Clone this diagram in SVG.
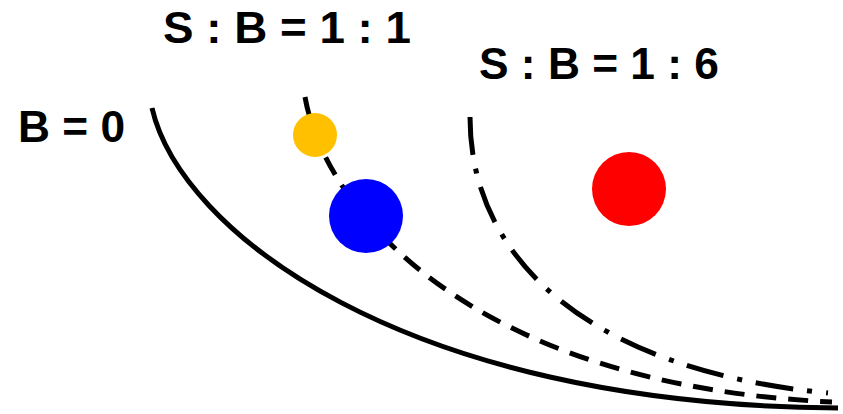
<svg xmlns="http://www.w3.org/2000/svg" width="843" height="414" viewBox="0 0 843 414">
<style>
.lbl{font-family:"Liberation Sans",Arial,sans-serif;font-weight:bold;font-size:45px;fill:#000}
.c{fill:none;stroke:#000;stroke-width:5}
.dash{stroke-dasharray:20 12}
.dd{stroke-dasharray:38 14 5 14}
</style>
<rect width="843" height="414" fill="#fff"/>
<g id="connectors">
<path class="c" d="M152,108 C180,230 400,405 838,408"/>
<path class="c dash" d="M305,97 C325,210 470,385 832,402"/>
<path class="c dd" d="M470,117 C470,260 590,370 828,393"/>
</g>
<g id="yellow"><circle cx="315" cy="135" r="22" fill="#FFC000"/></g>
<g id="blue"><circle cx="366" cy="216" r="37" fill="#0000FF"/></g>
<g id="red"><circle cx="629" cy="189" r="37" fill="#FF0000"/></g>
<g id="label-b0"><text class="lbl" x="18" y="142" textLength="107" lengthAdjust="spacingAndGlyphs">B = 0</text></g>
<g id="label-11"><text class="lbl" x="163" y="43" textLength="248" lengthAdjust="spacingAndGlyphs">S : B = 1 : 1</text></g>
<g id="label-16"><text class="lbl" x="479" y="79" textLength="240" lengthAdjust="spacingAndGlyphs">S : B = 1 : 6</text></g>
</svg>
